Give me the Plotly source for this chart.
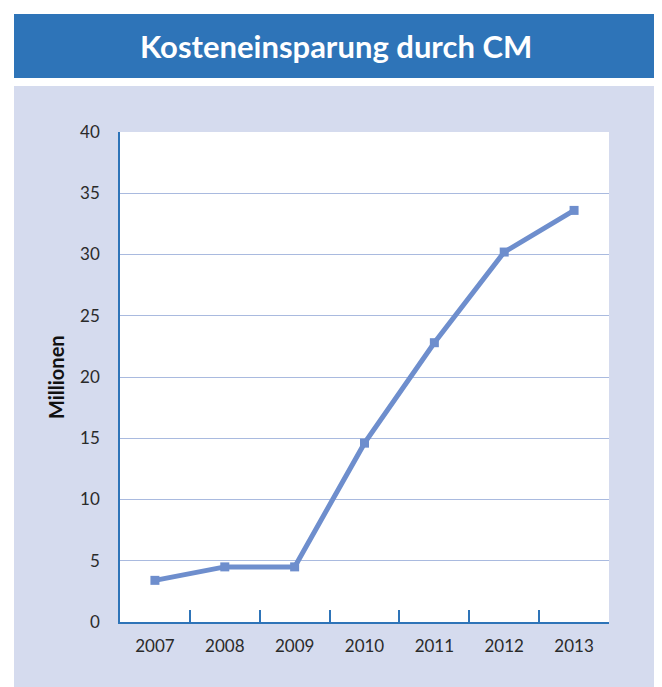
import plotly.graph_objects as go

years = ["2007", "2008", "2009", "2010", "2011", "2012", "2013"]
savings = [3.4, 4.5, 4.5, 14.6, 22.8, 30.2, 33.6]
y_ticks = [0, 5, 10, 15, 20, 25, 30, 35, 40]
title_text = "Kosteneinsparung durch CM"
y_title = "Millionen"

OFF = 8  # page body margin
W, H = 662 - OFF, 687 - OFF
L, R, T, B = 120 - OFF, 609 - OFF, 132 - OFF, 622 - OFF  # plot area in figure pixels

def px(x):
    return (x - OFF - L) / (R - L)

def py(y):
    return (B - (y - OFF)) / (B - T)

fig = go.Figure()
fig.add_trace(go.Scatter(
    x=years, y=savings, mode="lines+markers",
    line=dict(color="#6E8ECD", width=5),
    marker=dict(symbol="square", size=9, color="#6E8ECD"),
    showlegend=False, cliponaxis=False,
))

font_family = "Lato, 'Open Sans', sans-serif"

fig.update_layout(
    width=W, height=H,
    margin=dict(l=L, r=W - R, t=T, b=H - B, pad=0),
    paper_bgcolor="white",
    plot_bgcolor="white",
    font=dict(family=font_family, size=17, color="#2a2a2a"),
    shapes=[
        dict(type="rect", xref="paper", yref="paper", layer="below",
             x0=px(14), x1=px(655), y0=py(690), y1=py(86),
             fillcolor="#D5DBEE", line=dict(width=0)),
        dict(type="rect", xref="paper", yref="paper", layer="below",
             x0=px(120), x1=px(609), y0=py(622), y1=py(132),
             fillcolor="white", line=dict(width=0)),
        dict(type="rect", xref="paper", yref="paper", layer="below",
             x0=px(14), x1=px(655), y0=py(78), y1=py(14),
             fillcolor="#2E74B8", line=dict(width=0)),
    ],
    annotations=[
        dict(text=f"<b>{title_text}</b>", xref="paper", yref="paper",
             x=px(336), y=py(46), xanchor="center", yanchor="middle",
             showarrow=False, font=dict(family=font_family, size=31, color="white")),
        dict(text=f"<b>{y_title}</b>", xref="paper", yref="paper",
             x=px(56), y=py(377), xanchor="center", yanchor="middle",
             textangle=-90, showarrow=False,
             font=dict(family=font_family, size=20, color="#111111")),
    ],
)

fig.update_xaxes(
    type="category", categoryorder="array", categoryarray=years,
    range=[-0.5, len(years) - 0.5],
    showline=True, linecolor="#2E74B8", linewidth=2,
    ticks="inside", tickson="boundaries", ticklen=12, tickwidth=1.5,
    tickcolor="#2E74B8", showgrid=False, ticklabelstandoff=8,
    tickfont=dict(size=17, color="#2a2a2a"),
)
fig.update_yaxes(
    range=[0, 40], tickvals=y_ticks, ticktext=[str(v) for v in y_ticks],
    showline=True, linecolor="#2E74B8", linewidth=1.5,
    showgrid=True, gridcolor="#A9BADF", gridwidth=1.3,
    zeroline=False, ticks="", ticklabelstandoff=15,
    tickfont=dict(size=17, color="#2a2a2a"),
)

fig.write_html("out.html")
